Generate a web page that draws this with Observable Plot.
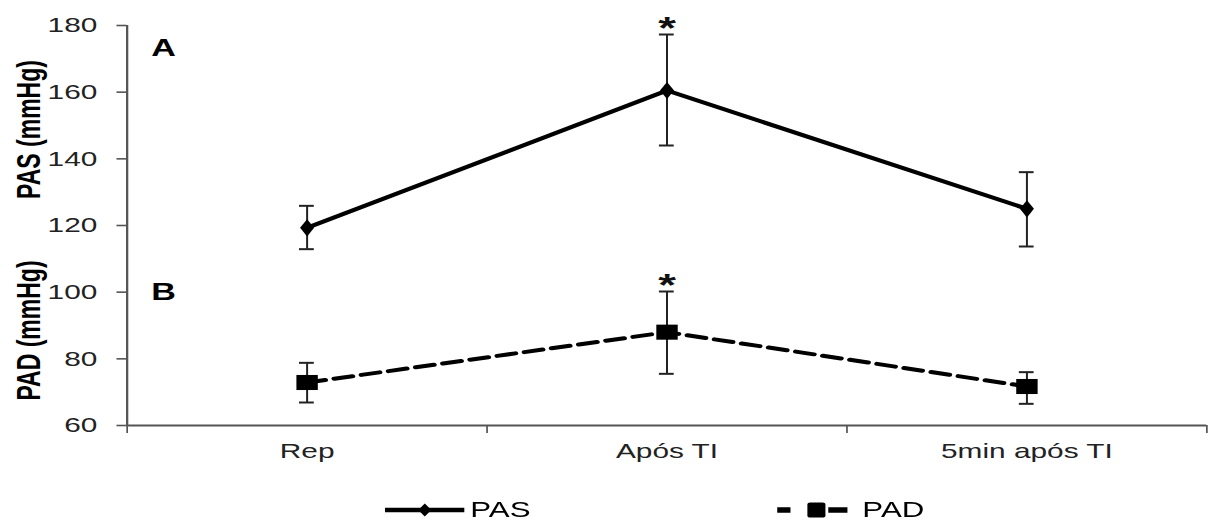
<!DOCTYPE html>
<html>
<head>
<meta charset="utf-8">
<script src="https://cdn.jsdelivr.net/npm/d3@7"></script>
<script src="https://cdn.jsdelivr.net/npm/@observablehq/plot@0.6"></script>
<style>
  html, body { margin: 0; padding: 0; background: #fff; overflow: hidden; }
  #chart { width: 851px; transform: scaleX(1.4207); transform-origin: 0 0; font-family: "Liberation Sans", Arial, sans-serif; }
  #legend { position: relative; height: 48px; font-size: 22px; color: #000; }
  .item { position: absolute; top: 26px; display: flex; align-items: center; height: 24px; }
  .item svg { display: block; }
  .item span { line-height: 24px; }
</style>
</head>
<body>
<div id="chart"></div>
<script>
// ---- data ----
const categories = ["Rep", "Após TI", "5min após TI"];
const pasMean = [119.3, 160.5, 125.0];
const pasLow  = [112.9, 144.0, 113.7];
const pasHigh = [125.9, 177.3, 136.0];
const padMean = [72.9, 88.0, 71.7];
const padLow  = [66.9, 75.5, 66.5];
const padHigh = [78.8, 100.2, 76.0];
const significant = ["Após TI"];
const yTicks = [60, 80, 100, 120, 140, 160, 180];
const seriesNames = ["PAS", "PAD"];
const axisTitles = ["PAS (mmHg)", "PAD (mmHg)"];
const panelLabels = ["A", "B"];

const rows = categories.map((c, i) => ({
  cat: c, x: i + 0.5,
  pas: pasMean[i], pasLo: pasLow[i], pasHi: pasHigh[i],
  pad: padMean[i], padLo: padLow[i], padHi: padHigh[i],
  sig: significant.includes(c)
}));
const sigRows = rows.filter(d => d.sig);
const font = '"Liberation Sans", Arial, sans-serif';
const axisColor = "#555";

const chart = Plot.plot({
  width: 851,
  height: 472,
  marginLeft: 89,
  marginRight: 2,
  marginTop: 25,
  marginBottom: 47,
  x: {domain: [0, categories.length], axis: null},
  y: {domain: [60, 180], axis: null},
  style: {fontFamily: font, fontSize: "21px", color: "#000", background: "#fff", overflow: "visible"},
  marks: [
    Plot.axisY({ticks: yTicks, tickSize: 7, tickPadding: 14, label: null, stroke: axisColor, strokeWidth: 1.6, fontSize: 21, fill: "#222"}),
    Plot.axisX({ticks: d3.range(categories.length + 1), tickFormat: () => "", tickSize: 8, label: null, stroke: axisColor, strokeWidth: 1.2}),
    Plot.axisX({ticks: rows.map(d => d.x), tickFormat: (d, i) => categories[i], tickSize: 0, tickPadding: 18, label: null, fontSize: 21, fill: "#222"}),
    Plot.ruleX([0], {stroke: axisColor, strokeWidth: 1.6}),
    Plot.ruleY([60], {stroke: axisColor, strokeWidth: 2}),
    // error bars PAS
    Plot.ruleX(rows, {x: "x", y1: "pasLo", y2: "pasHi", stroke: "#222", strokeWidth: 1.4}),
    Plot.ruleY(rows, {y: "pasLo", x1: "x", x2: "x", insetLeft: -5.2, insetRight: -5.2, stroke: "#222", strokeWidth: 2}),
    Plot.ruleY(rows, {y: "pasHi", x1: "x", x2: "x", insetLeft: -5.2, insetRight: -5.2, stroke: "#222", strokeWidth: 2}),
    // error bars PAD
    Plot.ruleX(rows, {x: "x", y1: "padLo", y2: "padHi", stroke: "#222", strokeWidth: 1.4}),
    Plot.ruleY(rows, {y: "padLo", x1: "x", x2: "x", insetLeft: -5.2, insetRight: -5.2, stroke: "#222", strokeWidth: 2}),
    Plot.ruleY(rows, {y: "padHi", x1: "x", x2: "x", insetLeft: -5.2, insetRight: -5.2, stroke: "#222", strokeWidth: 2}),
    // lines
    Plot.line(rows, {x: "x", y: "pas", stroke: "#000", strokeWidth: 4}),
    Plot.line(rows, {x: "x", y: "pad", stroke: "#000", strokeWidth: 4, strokeDasharray: "13,6.5"}),
    Plot.dot(rows, {x: "x", y: "pas", symbol: "diamond", r: 5.2, fill: "#000", stroke: "none"}),
    Plot.dot(rows, {x: "x", y: "pad", symbol: "square", r: 8.5, fill: "#000", stroke: "none"}),
    // significance asterisks
    Plot.text(sigRows, {x: "x", y: "pasHi", text: () => "*", fontSize: 32, fontWeight: "bold", lineAnchor: "bottom", dy: 4, fill: "#111"}),
    Plot.text(sigRows, {x: "x", y: "padHi", text: () => "*", fontSize: 32, fontWeight: "bold", lineAnchor: "bottom", dy: 4, fill: "#111"}),
    // panel labels
    Plot.text([panelLabels[0]], {frameAnchor: "top-left", dx: 17, dy: 13, fontWeight: "bold", fontSize: 24, lineAnchor: "top"}),
    Plot.text([panelLabels[1]], {frameAnchor: "top-left", dx: 17, dy: 257, fontWeight: "bold", fontSize: 24, lineAnchor: "top"}),
    // axis titles
    Plot.text([axisTitles[0]], {y: [148.8], frameAnchor: "left", dx: -69, rotate: -90, fontWeight: "bold", fontSize: 23, textAnchor: "middle", lineAnchor: "middle"}),
    Plot.text([axisTitles[1]], {y: [88.5], frameAnchor: "left", dx: -69, rotate: -90, fontWeight: "bold", fontSize: 23, textAnchor: "middle", lineAnchor: "middle"})
  ]
});

const root = document.getElementById("chart");
root.appendChild(chart);

// legend below the chart
const legend = document.createElement("div");
legend.id = "legend";
const pasItem = document.createElement("div");
pasItem.className = "item";
pasItem.style.left = "271px";
pasItem.innerHTML = `<svg width="56" height="24"><line x1="0" x2="56" y1="12" y2="12" stroke="#000" stroke-width="4.5"/><path d="M28,5.5 L32.6,12 L28,18.5 L23.4,12Z" fill="#000"/></svg><span style="margin-left:4px">${seriesNames[0]}</span>`;
const padItem = document.createElement("div");
padItem.className = "item";
padItem.style.left = "547px";
padItem.innerHTML = `<svg width="50" height="24"><line x1="0" x2="9.4" y1="12" y2="12" stroke="#000" stroke-width="5.5"/><rect x="21.3" y="4.5" width="12.7" height="15" rx="2" fill="#000"/><line x1="36" x2="49.5" y1="12" y2="12" stroke="#000" stroke-width="5.5"/></svg><span style="margin-left:10px">${seriesNames[1]}</span>`;
legend.appendChild(pasItem);
legend.appendChild(padItem);
root.appendChild(legend);
</script>
</body>
</html>
